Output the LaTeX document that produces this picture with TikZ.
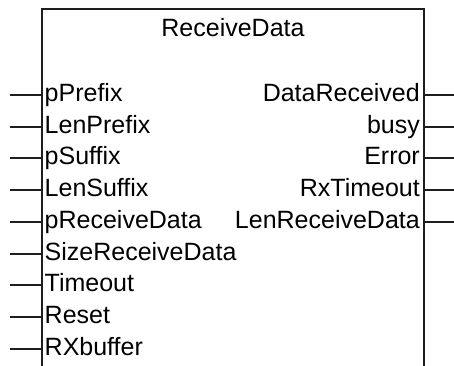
\documentclass[tikz,border=0pt]{standalone}
\usepackage{fontspec}
\setmainfont{Liberation Sans}
\usepackage{tikz}
\usetikzlibrary{positioning}
\definecolor{frame}{RGB}{30,30,30}

\begin{document}
\begin{tikzpicture}[x=1pt,y=-1pt,
  font=\fontsize{25}{30}\selectfont,
  inlbl/.style={anchor=base west,inner xsep=2.5pt,inner ysep=0pt},
  outlbl/.style={anchor=base east,inner xsep=4pt,inner ysep=0pt},
  edge/.style={draw=frame,line width=2pt},
  pin/.style={frame,line width=2pt},
]
\useasboundingbox (0,0) rectangle (454,365);

% block outline, open at the bottom
\coordinate (bl) at (42,368);
\coordinate (tl) at (42,9);
\coordinate (tr) at (424,9);
\coordinate (br) at (424,368);
\draw[edge] (bl) -- (tl) -- (tr) -- (br);

\node[anchor=base,inner sep=0pt] (title) at (233,36.7) {ReceiveData};

% inputs
\node[inlbl] (pPrefix)     at (42,101.7) {pPrefix};
\node[inlbl] (LenPrefix)   at (42,133.7) {LenPrefix};
\node[inlbl] (pSuffix)     at (42,164.7) {pSuffix};
\node[inlbl] (LenSuffix)   at (42,196.7) {LenSuffix};
\node[inlbl] (pRecv)       at (42,228.7) {pReceiveData};
\node[inlbl] (SizeRecv)    at (42,260.7) {SizeReceiveData};
\node[inlbl] (Timeout)     at (42,291.7) {Timeout};
\node[inlbl] (Reset)       at (42,323.7) {Reset};
\node[inlbl] (RXbuffer)    at (42,355.7) {RXbuffer};

\coordinate (pPrefix-in)   at (10,95);
\coordinate (LenPrefix-in) at (10,127);
\coordinate (pSuffix-in)   at (10,158);
\coordinate (LenSuffix-in) at (10,190);
\coordinate (pRecv-in)     at (10,222);
\coordinate (SizeRecv-in)  at (10,254);
\coordinate (Timeout-in)   at (10,285);
\coordinate (Reset-in)     at (10,317);
\coordinate (RXbuffer-in)  at (10,349);

\draw[pin] (pPrefix-in) -- (pPrefix-in -| pPrefix.west);
\draw[pin] (LenPrefix-in) -- (LenPrefix-in -| LenPrefix.west);
\draw[pin] (pSuffix-in) -- (pSuffix-in -| pSuffix.west);
\draw[pin] (LenSuffix-in) -- (LenSuffix-in -| LenSuffix.west);
\draw[pin] (pRecv-in) -- (pRecv-in -| pRecv.west);
\draw[pin] (SizeRecv-in) -- (SizeRecv-in -| SizeRecv.west);
\draw[pin] (Timeout-in) -- (Timeout-in -| Timeout.west);
\draw[pin] (Reset-in) -- (Reset-in -| Reset.west);
\draw[pin] (RXbuffer-in) -- (RXbuffer-in -| RXbuffer.west);

% outputs
\node[outlbl] (DataRecv)  at (424,101.7) {DataReceived};
\node[outlbl] (busy)      at (424,133.7) {busy};
\node[outlbl] (Error)     at (424,164.7) {Error};
\node[outlbl] (RxTimeout) at (424,196.7) {RxTimeout};
\node[outlbl] (LenRecv)   at (424,228.7) {LenReceiveData};

\coordinate (DataRecv-out)  at (454,95);
\coordinate (busy-out)      at (454,127);
\coordinate (Error-out)     at (454,158);
\coordinate (RxTimeout-out) at (454,190);
\coordinate (LenRecv-out)   at (454,222);

\draw[pin] (DataRecv-out -| DataRecv.east) -- (DataRecv-out);
\draw[pin] (busy-out -| busy.east) -- (busy-out);
\draw[pin] (Error-out -| Error.east) -- (Error-out);
\draw[pin] (RxTimeout-out -| RxTimeout.east) -- (RxTimeout-out);
\draw[pin] (LenRecv-out -| LenRecv.east) -- (LenRecv-out);
\end{tikzpicture}
\end{document}
